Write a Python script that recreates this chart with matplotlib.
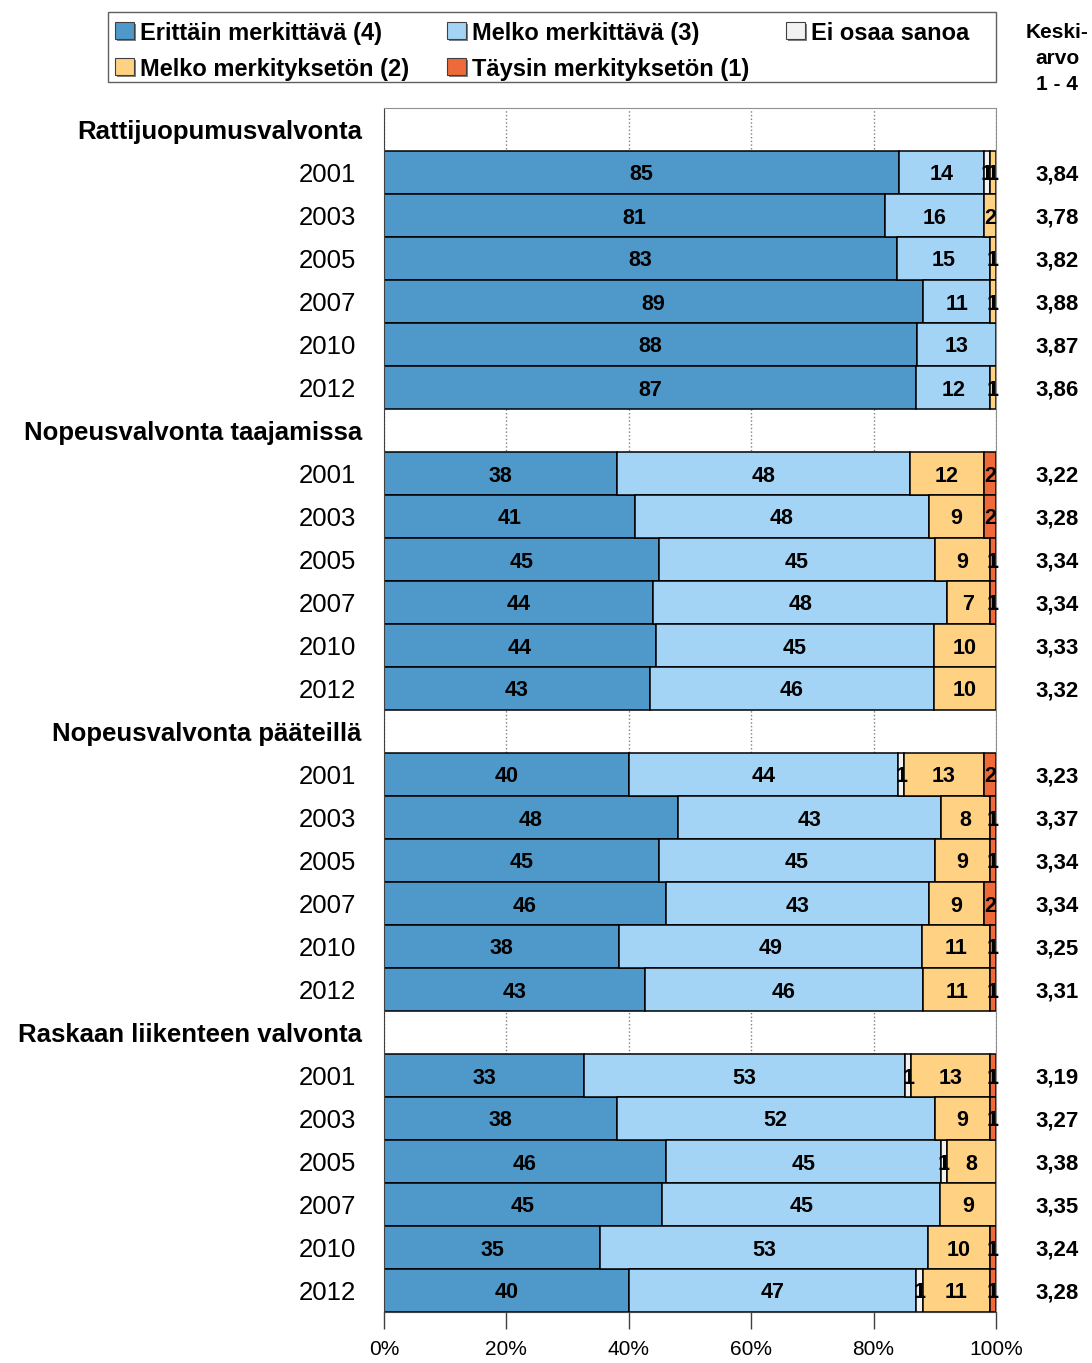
import matplotlib
matplotlib.use('Agg')
import matplotlib.pyplot as plt
import numpy as np
from matplotlib.patches import Rectangle

plt.rcParams['font.family'] = ['Liberation Sans', 'DejaVu Sans']

groups = ['Rattijuopumusvalvonta', 'Nopeusvalvonta taajamissa',
          'Nopeusvalvonta pääteillä', 'Raskaan liikenteen valvonta']
years = ['2001', '2003', '2005', '2007', '2010', '2012']
series = ['Erittäin merkittävä (4)', 'Melko merkittävä (3)', 'Ei osaa sanoa',
          'Melko merkityksetön (2)', 'Täysin merkityksetön (1)']
colors = ['#4E98CA', '#A3D4F6', '#F2F2F2', '#FFD182', '#EE6A3B']

# percentages per row (4 groups x 6 years), as printed in the bars
erittain = [85, 81, 83, 89, 88, 87,
            38, 41, 45, 44, 44, 43,
            40, 48, 45, 46, 38, 43,
            33, 38, 46, 45, 35, 40]
melko = [14, 16, 15, 11, 13, 12,
         48, 48, 45, 48, 45, 46,
         44, 43, 45, 43, 49, 46,
         53, 52, 45, 45, 53, 47]
eos = [1, 0, 0, 0, 0, 0,
       0, 0, 0, 0, 0, 0,
       1, 0, 0, 0, 0, 0,
       1, 0, 1, 0, 0, 1]
merkitykseton = [1, 2, 1, 1, 0, 1,
                 12, 9, 9, 7, 10, 10,
                 13, 8, 9, 9, 11, 11,
                 13, 9, 8, 9, 10, 11]
taysin = [0, 0, 0, 0, 0, 0,
          2, 2, 1, 1, 0, 0,
          2, 1, 1, 2, 1, 1,
          1, 1, 0, 0, 1, 1]
keskiarvo = [3.84, 3.78, 3.82, 3.88, 3.87, 3.86,
             3.22, 3.28, 3.34, 3.34, 3.33, 3.32,
             3.23, 3.37, 3.34, 3.34, 3.25, 3.31,
             3.19, 3.27, 3.38, 3.35, 3.24, 3.28]

data = np.array([erittain, melko, eos, merkitykseton, taysin], dtype=float)
shares = data / data.sum(axis=0) * 100

# row positions: each group has a header row followed by the year rows
ypos = []
for g in range(len(groups)):
    for i in range(len(years)):
        ypos.append(g * 7 + 1 + i)
ypos = np.array(ypos)

W, H = 1092, 1363
fig = plt.figure(figsize=(W / 100, H / 100), dpi=100)
ax = fig.add_axes([384 / W, 1 - 1312 / H, 612 / W, 1204 / H])

left = np.zeros(len(ypos))
for k in range(len(series)):
    m = data[k] > 0
    ax.barh(ypos[m], shares[k][m], left=left[m], height=1.0, color=colors[k],
            edgecolor='black', linewidth=1.1, zorder=2)
    for y, l, s, v in zip(ypos[m], left[m], shares[k][m], data[k][m]):
        ax.text(l + s / 2, y, f'{int(v)}', ha='center', va='center_baseline',
                fontsize=15.5, fontweight='bold', zorder=3)
    left += shares[k]

for y, val in zip(ypos, keskiarvo):
    ax.text(110, y, f'{val:.2f}'.replace('.', ','), ha='center', va='center_baseline',
            fontsize=16, fontweight='bold', clip_on=False)

for g, name in enumerate(groups):
    ax.text(-3.6, g * 7, name, ha='right', va='center_baseline', fontsize=18.5,
            fontweight='bold', clip_on=False)
    for i, yr in enumerate(years):
        ax.text(-4.6, g * 7 + 1 + i, yr, ha='right', va='center_baseline',
                fontsize=18.5, clip_on=False)

ax.set_xlim(0, 100)
ax.set_ylim(27.5, -0.5)
ax.set_yticks([])
ax.set_xticks(range(0, 101, 20))
ax.set_xticklabels([f'{t}%' for t in range(0, 101, 20)])
ax.tick_params(axis='x', direction='out', length=12, width=1, color='#404040',
               labelsize=15, pad=8)
ax.xaxis.grid(True, linestyle=':', color='#808080', linewidth=1, zorder=0)
ax.set_axisbelow(True)
for s in ['top', 'right']:
    ax.spines[s].set_color('#909090')
ax.spines['left'].set_color('#404040')
ax.spines['bottom'].set_color('#404040')

# legend box
fig.add_artist(Rectangle((108 / W, 1 - 82 / H), 888 / W, 70 / H, transform=fig.transFigure,
                         facecolor='white', edgecolor='#606060', linewidth=1))
leg_pos = [(115, 31), (447, 31), (786, 31), (115, 67), (447, 67)]
for (x, y), k in zip(leg_pos, range(len(series))):
    fig.add_artist(Rectangle(((x + 2) / W, 1 - (y + 10) / H), 19 / W, 17 / H,
                             transform=fig.transFigure, facecolor='#808080',
                             edgecolor='none'))
    fig.add_artist(Rectangle((x / W, 1 - (y + 8) / H), 19 / W, 17 / H,
                             transform=fig.transFigure, facecolor=colors[k],
                             edgecolor='#404040', linewidth=0.8))
    fig.text((x + 25) / W, 1 - y / H, series[k], ha='left', va='center_baseline',
             fontsize=17, fontweight='bold')

for txt, y in zip(['Keski-', 'arvo', '1 - 4'], [31, 57, 82]):
    fig.text(1057 / W, 1 - y / H, txt, ha='center', va='center_baseline',
             fontsize=15, fontweight='bold')

fig.savefig('out.png', dpi=100)
